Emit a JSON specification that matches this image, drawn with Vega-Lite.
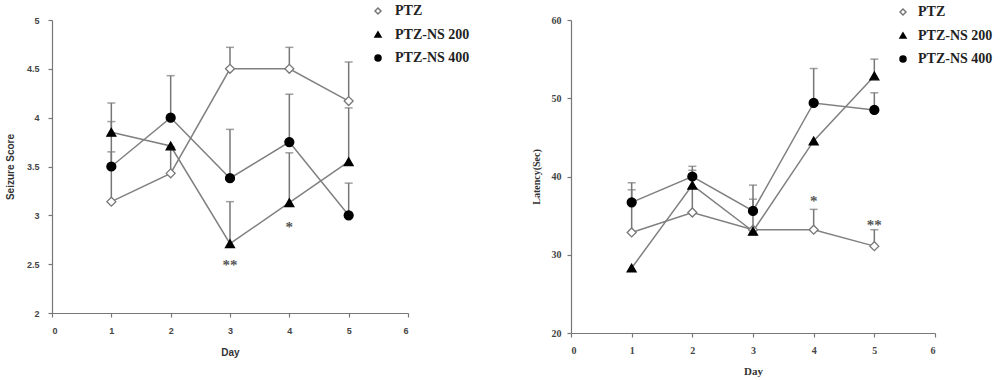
{
  "$schema": "https://vega.github.io/schema/vega-lite/v6.json",
  "background": "white",
  "padding": {"top": 4, "left": 5, "right": 5, "bottom": 5},
  "bounds": "flush",
  "spacing": 163,
  "resolve": {"scale": {"x": "independent", "y": "independent", "shape": "independent", "fill": "independent", "stroke": "independent"}, "legend": {"shape": "independent", "fill": "independent", "stroke": "independent"}},
  "config": {
    "view": {"stroke": null},
    "axis": {"grid": false, "domainColor": "#777", "tickColor": "#777", "tickSize": 4, "labelColor": "#444", "titleColor": "#333", "labelFontWeight": "bold", "titleFontWeight": "bold", "domainWidth": 1.2, "tickWidth": 1.2}
  },
  "datasets": {
    "seizure": [
      {"day": 1, "group": "PTZ", "value": 3.14, "upper": 3.65},
      {"day": 2, "group": "PTZ", "value": 3.43, "upper": 3.7},
      {"day": 3, "group": "PTZ", "value": 4.5, "upper": 4.72},
      {"day": 4, "group": "PTZ", "value": 4.5, "upper": 4.72},
      {"day": 5, "group": "PTZ", "value": 4.17, "upper": 4.57},
      {"day": 1, "group": "PTZ-NS 200", "value": 3.85, "upper": 3.96},
      {"day": 2, "group": "PTZ-NS 200", "value": 3.71, "upper": null},
      {"day": 3, "group": "PTZ-NS 200", "value": 2.71, "upper": 3.14},
      {"day": 4, "group": "PTZ-NS 200", "value": 3.13, "upper": 3.64},
      {"day": 5, "group": "PTZ-NS 200", "value": 3.55, "upper": 4.1},
      {"day": 1, "group": "PTZ-NS 400", "value": 3.5, "upper": 4.15},
      {"day": 2, "group": "PTZ-NS 400", "value": 4.0, "upper": 4.43},
      {"day": 3, "group": "PTZ-NS 400", "value": 3.38, "upper": 3.88},
      {"day": 4, "group": "PTZ-NS 400", "value": 3.75, "upper": 4.24},
      {"day": 5, "group": "PTZ-NS 400", "value": 3.0, "upper": 3.33}
    ],
    "latency": [
      {"day": 1, "group": "PTZ", "value": 32.85, "upper": 38.3},
      {"day": 2, "group": "PTZ", "value": 35.4, "upper": 40.8},
      {"day": 3, "group": "PTZ", "value": 33.2, "upper": 37.1},
      {"day": 4, "group": "PTZ", "value": 33.2, "upper": 35.8},
      {"day": 5, "group": "PTZ", "value": 31.1, "upper": 33.2},
      {"day": 1, "group": "PTZ-NS 200", "value": 28.3, "upper": null},
      {"day": 2, "group": "PTZ-NS 200", "value": 38.9, "upper": null},
      {"day": 3, "group": "PTZ-NS 200", "value": 33.0, "upper": null},
      {"day": 4, "group": "PTZ-NS 200", "value": 44.55, "upper": null},
      {"day": 5, "group": "PTZ-NS 200", "value": 52.85, "upper": 55.0},
      {"day": 1, "group": "PTZ-NS 400", "value": 36.7, "upper": 39.2},
      {"day": 2, "group": "PTZ-NS 400", "value": 40.0, "upper": 41.3},
      {"day": 3, "group": "PTZ-NS 400", "value": 35.6, "upper": 38.9},
      {"day": 4, "group": "PTZ-NS 400", "value": 49.4, "upper": 53.8},
      {"day": 5, "group": "PTZ-NS 400", "value": 48.5, "upper": 50.7}
    ],
    "sigSeizure": [
      {"day": 3, "value": 2.53, "label": "**"},
      {"day": 4, "value": 2.92, "label": "*"}
    ],
    "sigLatency": [
      {"day": 4, "value": 37.4, "label": "*"},
      {"day": 5, "value": 34.3, "label": "**"}
    ]
  },
  "hconcat": [
    {
      "width": 356,
      "height": 293,
      "layer": [
        {
          "data": {"name": "seizure"},
          "transform": [{"filter": "datum.upper != null"}],
          "mark": {"type": "rule", "color": "#777", "strokeWidth": 1.5},
          "encoding": {
            "x": {"field": "day", "type": "quantitative", "scale": {"domain": [0, 6], "nice": false}, "axis": {"title": "Day", "values": [0,1,2,3,4,5,6], "format": "d", "labelFont": "Liberation Sans", "labelFontSize": 9, "titleFont": "Liberation Sans", "titleFontSize": 10, "labelPadding": 9, "titlePadding": 12}},
            "y": {"field": "value", "type": "quantitative", "scale": {"domain": [2, 5], "nice": false}, "axis": {"title": "Seizure Score", "values": [2,2.5,3,3.5,4,4.5,5], "format": "~g", "labelFont": "Liberation Sans", "labelFontSize": 9, "titleFont": "Liberation Sans", "titleFontSize": 10, "labelPadding": 9, "titlePadding": 11}},
            "y2": {"field": "upper"}
          }
        },
        {
          "data": {"name": "seizure"},
          "transform": [{"filter": "datum.upper != null"}],
          "mark": {"type": "tick", "color": "#777", "thickness": 1.5, "size": 8, "orient": "horizontal"},
          "encoding": {
            "x": {"field": "day", "type": "quantitative"},
            "y": {"field": "upper", "type": "quantitative"}
          }
        },
        {
          "data": {"name": "seizure"},
          "mark": {"type": "line", "color": "#808080", "strokeWidth": 1.5},
          "encoding": {
            "x": {"field": "day", "type": "quantitative"},
            "y": {"field": "value", "type": "quantitative"},
            "detail": {"field": "group"}
          }
        },
        {
          "data": {"name": "seizure"},
          "mark": {"type": "point", "size": 80, "strokeWidth": 1.3, "opacity": 1},
          "encoding": {
            "x": {"field": "day", "type": "quantitative"},
            "y": {"field": "value", "type": "quantitative"},
            "shape": {"field": "group", "type": "nominal", "scale": {"domain": ["PTZ", "PTZ-NS 200", "PTZ-NS 400"], "range": ["diamond", "triangle-up", "circle"]}, "legend": {"title": null, "orient": "none", "legendX": 319, "legendY": -16, "padding": 0, "labelFont": "Liberation Serif", "labelFontWeight": "bold", "labelFontSize": 14, "labelColor": "#222", "labelOffset": 10, "rowPadding": 9.5, "symbolSize": 36}},
            "fill": {"field": "group", "type": "nominal", "scale": {"domain": ["PTZ", "PTZ-NS 200", "PTZ-NS 400"], "range": ["white", "black", "black"]}, "legend": null},
            "stroke": {"field": "group", "type": "nominal", "scale": {"domain": ["PTZ", "PTZ-NS 200", "PTZ-NS 400"], "range": ["#777", "black", "black"]}, "legend": null}
          }
        },
        {
          "data": {"name": "sigSeizure"},
          "mark": {"type": "text", "font": "Liberation Serif", "fontSize": 15, "fontWeight": "bold", "color": "#555", "baseline": "middle", "dy": 4},
          "encoding": {
            "x": {"field": "day", "type": "quantitative"},
            "y": {"field": "value", "type": "quantitative"},
            "text": {"field": "label"}
          }
        }
      ]
    },
    {
      "width": 364,
      "height": 313,
      "layer": [
        {
          "data": {"name": "latency"},
          "transform": [{"filter": "datum.upper != null"}],
          "mark": {"type": "rule", "color": "#777", "strokeWidth": 1.5},
          "encoding": {
            "x": {"field": "day", "type": "quantitative", "scale": {"domain": [0, 6], "nice": false}, "axis": {"title": "Day", "values": [0,1,2,3,4,5,6], "format": "d", "labelFont": "Liberation Serif", "labelFontSize": 10, "titleFont": "Liberation Serif", "titleFontSize": 11, "labelPadding": 8, "titlePadding": 10}},
            "y": {"field": "value", "type": "quantitative", "scale": {"domain": [20, 60], "nice": false}, "axis": {"title": "Latency(Sec)", "values": [20,30,40,50,60], "labelFont": "Liberation Serif", "labelFontSize": 10, "titleFont": "Liberation Serif", "titleFontSize": 10, "labelPadding": 6, "titlePadding": 10}},
            "y2": {"field": "upper"}
          }
        },
        {
          "data": {"name": "latency"},
          "transform": [{"filter": "datum.upper != null"}],
          "mark": {"type": "tick", "color": "#777", "thickness": 1.5, "size": 8, "orient": "horizontal"},
          "encoding": {
            "x": {"field": "day", "type": "quantitative"},
            "y": {"field": "upper", "type": "quantitative"}
          }
        },
        {
          "data": {"name": "latency"},
          "mark": {"type": "line", "color": "#808080", "strokeWidth": 1.5},
          "encoding": {
            "x": {"field": "day", "type": "quantitative"},
            "y": {"field": "value", "type": "quantitative"},
            "detail": {"field": "group"}
          }
        },
        {
          "data": {"name": "latency"},
          "mark": {"type": "point", "size": 80, "strokeWidth": 1.3, "opacity": 1},
          "encoding": {
            "x": {"field": "day", "type": "quantitative"},
            "y": {"field": "value", "type": "quantitative"},
            "shape": {"field": "group", "type": "nominal", "scale": {"domain": ["PTZ", "PTZ-NS 200", "PTZ-NS 400"], "range": ["diamond", "triangle-up", "circle"]}, "legend": {"title": null, "orient": "none", "legendX": 325, "legendY": -15, "padding": 0, "labelFont": "Liberation Serif", "labelFontWeight": "bold", "labelFontSize": 14, "labelColor": "#222", "labelOffset": 8, "rowPadding": 9.5, "symbolSize": 36}},
            "fill": {"field": "group", "type": "nominal", "scale": {"domain": ["PTZ", "PTZ-NS 200", "PTZ-NS 400"], "range": ["white", "black", "black"]}, "legend": null},
            "stroke": {"field": "group", "type": "nominal", "scale": {"domain": ["PTZ", "PTZ-NS 200", "PTZ-NS 400"], "range": ["#777", "black", "black"]}, "legend": null}
          }
        },
        {
          "data": {"name": "sigLatency"},
          "mark": {"type": "text", "font": "Liberation Serif", "fontSize": 15, "fontWeight": "bold", "color": "#555", "baseline": "middle", "dy": 4},
          "encoding": {
            "x": {"field": "day", "type": "quantitative"},
            "y": {"field": "value", "type": "quantitative"},
            "text": {"field": "label"}
          }
        }
      ]
    }
  ]
}
